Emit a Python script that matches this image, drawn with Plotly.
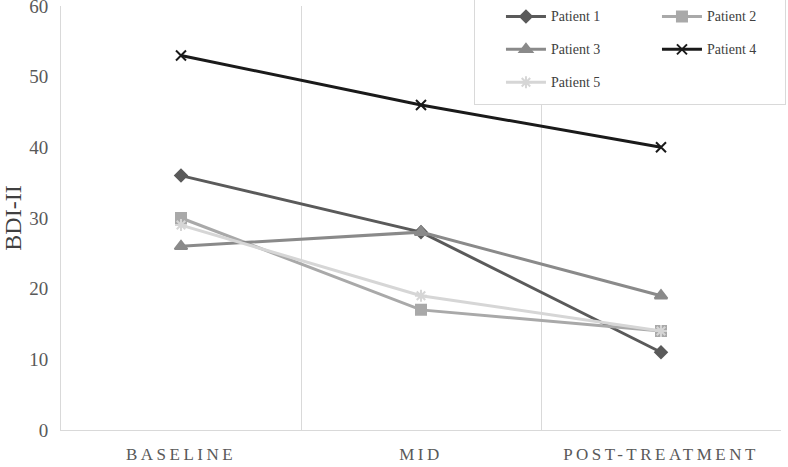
import plotly.graph_objects as go

categories = ["BASELINE", "MID", "POST-TREATMENT"]
patient_names = ["Patient 1", "Patient 2", "Patient 3", "Patient 4", "Patient 5"]
p1 = [36, 28, 11]
p2 = [30, 17, 14]
p3 = [26, 28, 19]
p4 = [53, 46, 40]
p5 = [29, 19, 14]
y_ticks = [0, 10, 20, 30, 40, 50, 60]

series = [p1, p2, p3, p4, p5]
colors = ["#5a5a5a", "#a9a9a9", "#8a8a8a", "#1a1a1a", "#d6d6d6"]
symbols = ["diamond", "square", "triangle-up", "x-thin-open", "asterisk-open"]
sizes = [9, 10, 11, 10, 10]
legend_columns = ["left", "right", "left", "right", "left"]
column_widths = {"left": 74, "right": 73}

fig = go.Figure()
for name, vals, c, s, sz, col in zip(patient_names, series, colors, symbols, sizes, legend_columns):
    fig.add_trace(go.Scatter(
        x=categories, y=vals,
        name=f'<span style="font-size:14px;baseline-shift:4px">{name}</span>',
        legendgroup=col, legendwidth=column_widths[col],
        mode="lines+markers",
        line=dict(color=c, width=3),
        marker=dict(symbol=s, size=sz, color=c, line=dict(color=c, width=2)),
    ))

tick_text = [f'<span style="letter-spacing:3.5px">{c}</span>' for c in categories]

font_family = "Liberation Serif"
fig.update_layout(
    width=788, height=467,
    margin=dict(l=61, r=7, t=6, b=37, autoexpand=False),
    paper_bgcolor="white", plot_bgcolor="white",
    font=dict(family=font_family, color="#595959"),
    showlegend=True,
    legend=dict(
        orientation="h", traceorder="grouped", tracegroupgap=0,
        x=1.0069, xanchor="right", y=1.0283, yanchor="top",
        entrywidth=74, entrywidthmode="pixels",
        indentation=27, itemwidth=40,
        bgcolor="white", bordercolor="#d9d9d9", borderwidth=1,
        font=dict(size=23, color="#404040", family=font_family),
    ),
    xaxis=dict(
        type="category", range=[-0.5, 2.5], automargin=False,
        tickmode="array", tickvals=categories, ticktext=tick_text,
        tickson="boundaries", ticks="", showgrid=True, gridcolor="#d9d9d9", gridwidth=1,
        showline=True, linecolor="#d9d9d9", linewidth=1,
        tickfont=dict(size=17, color="#595959", family=font_family),
        ticklabelstandoff=9,
        zeroline=False,
    ),
    yaxis=dict(
        range=[0, 60], tickvals=y_ticks, showgrid=False, automargin=False,
        ticklabeloverflow="allow", ticklabelstandoff=8,
        showline=True, linecolor="#d9d9d9", linewidth=1,
        tickfont=dict(size=19, color="#595959", family=font_family),
        title=dict(text="BDI-II", font=dict(size=24, color="#404040", family=font_family), standoff=20),
        zeroline=False, ticks="",
    ),
)

fig.write_html("out.html", config={"displayModeBar": False},
               post_script="document.body.style.margin='0';")
